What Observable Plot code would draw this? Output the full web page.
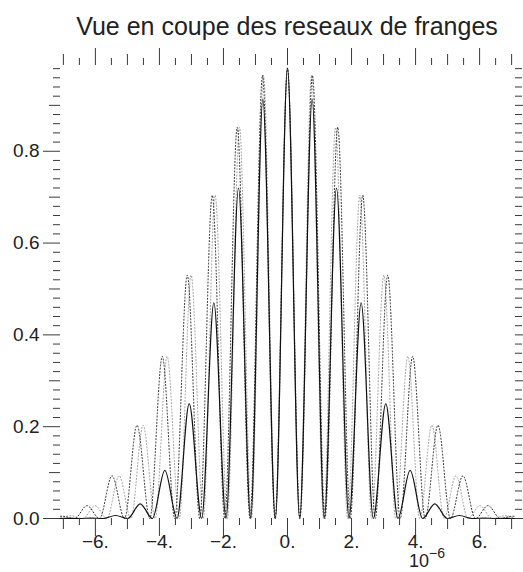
<!DOCTYPE html>
<html>
<head>
<meta charset="utf-8">
<script src="https://cdn.jsdelivr.net/npm/d3@7"></script>
<script src="https://cdn.jsdelivr.net/npm/@observablehq/plot@0.6"></script>
<style>
  html, body { margin: 0; padding: 0; background: #fff; }
  #chart { width: 523px; height: 572px; }
</style>
</head>
<body>
<div id="chart"></div>
<script>
// x in units of 1e-6
const edgeX = [-7.09, 7.09];

// Solid curve (mean fringe pattern)
const solidPeakX   = [-6.90, -6.14, -5.37, -4.60, -3.83, -3.07, -2.30, -1.53, -0.77, 0.00, 0.77, 1.53, 2.30, 3.07, 3.83, 4.60, 5.37, 6.14, 6.90];
const solidPeakY   = [0.0003, 0.001, 0.0065, 0.032, 0.105, 0.25, 0.47, 0.72, 0.913, 0.981, 0.913, 0.72, 0.47, 0.25, 0.105, 0.032, 0.0065, 0.001, 0.0003];
const solidTroughX = [-6.52, -5.76, -4.99, -4.22, -3.45, -2.68, -1.92, -1.15, -0.38, 0.38, 1.15, 1.92, 2.68, 3.45, 4.22, 4.99, 5.76, 6.52];
const solidEdgeY   = [0, 0];

// Black dotted curve (slightly longer fringe spacing)
const blackPeakX   = [-7.04, -6.26, -5.48, -4.70, -3.91, -3.13, -2.35, -1.57, -0.78, 0.00, 0.78, 1.57, 2.35, 3.13, 3.91, 4.70, 5.48, 6.26, 7.04];
const blackPeakY   = [0.005, 0.028, 0.093, 0.203, 0.353, 0.53, 0.704, 0.852, 0.965, 0.981, 0.965, 0.852, 0.704, 0.53, 0.353, 0.203, 0.093, 0.028, 0.005];
const blackTroughX = [-6.65, -5.87, -5.09, -4.30, -3.52, -2.74, -1.96, -1.17, -0.39, 0.39, 1.17, 1.96, 2.74, 3.52, 4.30, 5.09, 5.87, 6.65];
const blackEdgeY   = [0.005, 0.005];

// Gray dotted curve (slightly shorter fringe spacing)
const grayPeakX   = [-6.77, -6.01, -5.26, -4.51, -3.76, -3.01, -2.26, -1.50, -0.75, 0.00, 0.75, 1.50, 2.26, 3.01, 3.76, 4.51, 5.26, 6.01, 6.77];
const grayPeakY   = [0.006, 0.028, 0.093, 0.203, 0.353, 0.53, 0.704, 0.852, 0.965, 0.981, 0.965, 0.852, 0.704, 0.53, 0.353, 0.203, 0.093, 0.028, 0.006];
const grayTroughX = [-6.39, -5.64, -4.89, -4.13, -3.38, -2.63, -1.88, -1.13, -0.38, 0.38, 1.13, 1.88, 2.63, 3.38, 4.13, 4.89, 5.64, 6.39];
const grayEdgeY   = [0.001, 0.001];

const troughY = 0;

// Ticks
const xMajor = [-6, -4, -2, 0, 2, 4, 6];
const xLabels = ["\u22126.", "\u22124.", "\u22122.", "0.", "2.", "4.", "6."];
const xMedium = [-7, -5, -3, -1, 1, 3, 5, 7];
const xMinor = [-6.5, -5.5, -4.5, -3.5, -2.5, -1.5, -0.5, 0.5, 1.5, 2.5, 3.5, 4.5, 5.5, 6.5];
const yMajor = [0, 0.2, 0.4, 0.6, 0.8];
const yLabels = ["0.0", "0.2", "0.4", "0.6", "0.8"];
const yMedium = [0.1, 0.3, 0.5, 0.7, 0.9];
const yMinor = [0.02, 0.04, 0.06, 0.08, 0.12, 0.14, 0.16, 0.18, 0.22, 0.24, 0.26, 0.28,
  0.32, 0.34, 0.36, 0.38, 0.42, 0.44, 0.46, 0.48, 0.52, 0.54, 0.56, 0.58,
  0.62, 0.64, 0.66, 0.68, 0.72, 0.74, 0.76, 0.78, 0.82, 0.84, 0.86, 0.88,
  0.92, 0.94, 0.96, 0.98];

const title = "Vue en coupe des reseaux de franges";
const exponentBase = "10";
const exponentSup = "\u22126";

function buildSeries(peakX, peakY, troughX, edgeY) {
  const pts = [];
  peakX.forEach((x, i) => pts.push({x, y: peakY[i]}));
  troughX.forEach(x => pts.push({x, y: troughY}));
  edgeX.forEach((x, i) => pts.push({x, y: edgeY[i]}));
  return pts.filter(p => p.x >= edgeX[0] && p.x <= edgeX[1]).sort((a, b) => a.x - b.x);
}
const solid = buildSeries(solidPeakX, solidPeakY, solidTroughX, solidEdgeY);
const black = buildSeries(blackPeakX, blackPeakY, blackTroughX, blackEdgeY);
const gray  = buildSeries(grayPeakX, grayPeakY, grayTroughX, grayEdgeY);

const xLabelMap = new Map(xMajor.map((v, i) => [v, xLabels[i]]));
const yLabelMap = new Map(yMajor.map((v, i) => [v, yLabels[i]]));
const tickColor = "#3a3a3a";
const blank = () => "";

function xTicks(anchor, values, size) {
  return Plot.axisX(values, {anchor, tickSize: size, tickFormat: blank, label: null, stroke: tickColor, strokeWidth: 1});
}
function yTicks(anchor, values, size) {
  return Plot.axisY(values, {anchor, tickSize: size, tickFormat: blank, label: null, stroke: tickColor, strokeWidth: 1});
}

const svg = Plot.plot({
  width: 523,
  height: 572,
  marginLeft: 60,
  marginRight: 9,
  marginTop: 64,
  marginBottom: 54,
  style: {fontFamily: "'Liberation Sans', Arial, Helvetica, sans-serif", fontSize: "19px", color: "#222", background: "#fff"},
  x: {domain: edgeX},
  y: {domain: [0, 0.989]},
  marks: [
    Plot.line(gray, {x: "x", y: "y", curve: "monotone-x", stroke: "#9a9a9a", strokeWidth: 1, strokeDasharray: "1 2.2"}),
    Plot.line(black, {x: "x", y: "y", curve: "monotone-x", stroke: "#222", strokeWidth: 1, strokeDasharray: "1 2.2"}),
    Plot.line(solid, {x: "x", y: "y", curve: "monotone-x", stroke: "#111", strokeWidth: 1.2}),
    xTicks("bottom", xMajor, 18), xTicks("bottom", xMedium, 11), xTicks("bottom", xMinor, 7),
    xTicks("top", xMajor, 17), xTicks("top", xMedium, 11), xTicks("top", xMinor, 7),
    yTicks("left", yMajor, 17), yTicks("left", yMedium, 11), yTicks("left", yMinor, 7),
    yTicks("right", yMajor, 17), yTicks("right", yMedium, 11), yTicks("right", yMinor, 7),
    Plot.axisX(xMajor, {anchor: "bottom", tickSize: 0, tickPadding: 16, tickFormat: d => xLabelMap.get(d), label: null, fill: "#222"}),
    Plot.axisY(yMajor, {anchor: "left", tickSize: 0, tickPadding: 21, tickFormat: d => yLabelMap.get(d), label: null, fill: "#222"})
  ]
});

const s = d3.select(svg);
s.append("text")
  .attr("x", 287).attr("y", 35)
  .attr("text-anchor", "middle")
  .attr("font-size", 25)
  .attr("fill", "#222")
  .text(title);
const ex = s.append("text")
  .attr("x", 427).attr("y", 567)
  .attr("font-size", 18)
  .attr("fill", "#222");
ex.append("tspan").text(exponentBase);
ex.append("tspan").attr("font-size", 14).attr("dy", -9).text(exponentSup);

document.getElementById("chart").appendChild(svg);
</script>
</body>
</html>
